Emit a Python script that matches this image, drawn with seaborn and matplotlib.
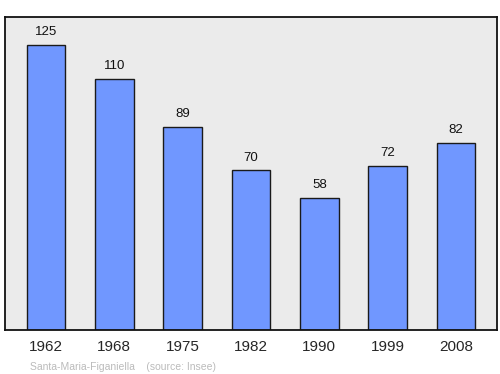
import matplotlib
matplotlib.use("Agg")
import matplotlib.pyplot as plt
import seaborn as sns
import pandas as pd

years = ["1962", "1968", "1975", "1982", "1990", "1999", "2008"]
population = [125, 110, 89, 70, 58, 72, 82]

sns.set_style("white")
plt.rcParams['font.family'] = ['Liberation Sans', 'DejaVu Sans']

df = pd.DataFrame({"year": years, "pop": population})

fig = plt.figure(figsize=(5, 3.74), dpi=100)
ax = fig.add_axes([0.01, 0.1176, 0.984, 0.837])
ax.set_facecolor("#ebebeb")
sns.barplot(data=df, x="year", y="pop", color="#7097ff", saturation=1,
            width=0.57, edgecolor="#1a1a1a", linewidth=1.0, ax=ax)
ax.set_ylim(0, 137.3)
ax.set_xlim(-0.6, 6.6)
for i, v in enumerate(population):
    ax.text(i, v + 3.0, str(v), ha="center", va="bottom", fontsize=9.5, color="#111111")
ax.set_xlabel("")
ax.set_ylabel("")
ax.set_yticks([])
ax.tick_params(axis="x", length=0, labelsize=11, pad=7.5)
for s in ax.spines.values():
    s.set_visible(True)
    s.set_color("#111111")
    s.set_linewidth(1.3)
fig.text(0.06, 0.012, "Santa-Maria-Figaniella    (source: Insee)", fontsize=7.5, color="#bbbbbb")
fig.savefig("out.png", dpi=100)
